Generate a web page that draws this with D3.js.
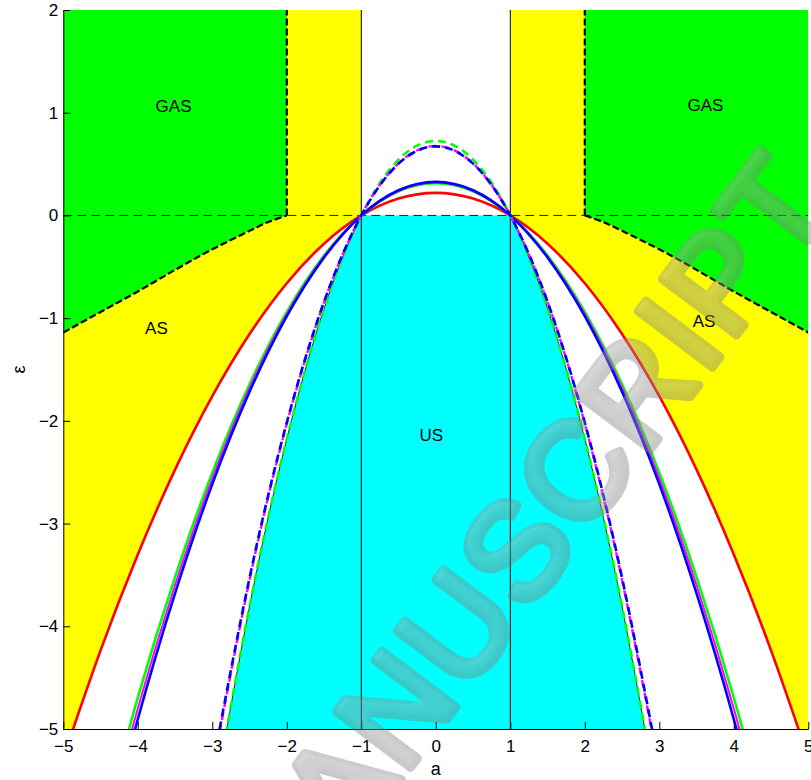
<!DOCTYPE html>
<html>
<head>
<meta charset="utf-8">
<script src="https://cdn.jsdelivr.net/npm/d3@7/dist/d3.min.js"></script>
<style>
  html, body { margin: 0; padding: 0; background: #fff; }
  svg { display: block; }
  text { font-family: "Liberation Sans", Arial, Helvetica, sans-serif; }
</style>
</head>
<body>
<svg id="chart" width="811" height="780"></svg>
<script>
// ---- data (half curves for a >= 0; the diagram is symmetric in a) ----
const aHalf        = [0, 0.5, 1, 1.5, 2, 2.5, 3, 3.5, 4, 4.5, 5];
const redHalf      = [0.22, 0.165, 0, -0.275, -0.66, -1.155, -1.76, -2.475, -3.30, -4.235, -5.28];
const greenHalf    = [0.313, 0.235, 0, -0.391, -0.939, -1.643, -2.504, -3.521, -4.695, -6.03];
const magentaHalf  = [0.320, 0.240, 0, -0.400, -0.960, -1.680, -2.560, -3.600, -4.800, -6.16];
const blueHalf     = [0.327, 0.245, 0, -0.409, -0.981, -1.717, -2.616, -3.679, -4.905, -6.29];
const greenDashHalf   = [0.725, 0.544, 0, -0.906, -2.175, -3.806, -5.80];
const magentaDashHalf = [0.676, 0.507, 0, -0.845, -2.028, -3.549, -5.41];
const blueDashHalf    = [0.672, 0.504, 0, -0.840, -2.016, -3.528, -5.376];

// GAS / AS border for |a| >= 2
const gasA   = [2, 2.25, 2.5, 3, 3.5, 4, 4.5, 5];
const gasEps = [0, -0.065, -0.15, -0.33, -0.53, -0.74, -0.94, -1.14];

// white strip |a| < 1 above eps = 0
const stripA = [-1, 1];

const xTicks = [-5, -4, -3, -2, -1, 0, 1, 2, 3, 4, 5];
const yTicks = [-5, -4, -3, -2, -1, 0, 1, 2];

const regionLabels = [
  { text: "GAS", a: -3.52, e: 1.07 },
  { text: "GAS", a: 3.62,  e: 1.08 },
  { text: "AS",  a: -3.75, e: -1.09 },
  { text: "AS",  a: 3.60,  e: -1.03 },
  { text: "US",  a: -0.06, e: -2.14 }
];

// mirror a half curve into a full one over negative and positive a
function full(half, aVals) {
  const pts = [];
  for (let i = half.length - 1; i >= 1; i--) pts.push([-aVals[i], half[i]]);
  for (let i = 0; i < half.length; i++) pts.push([aVals[i], half[i]]);
  return pts;
}

// ---- layout ----
const padL = 63.3, padR = 808.3, padT = 10, padB = 729;

const x = d3.scaleLinear().domain([-5, 5]).range([padL, padR]);
const y = d3.scaleLinear().domain([-5, 2]).range([padB, padT]);

const svg = d3.select("#chart");
const defs = svg.append("defs");
defs.append("clipPath").attr("id", "plotClip")
  .append("rect").attr("x", padL).attr("y", padT)
  .attr("width", padR - padL).attr("height", padB - padT);
defs.append("clipPath").attr("id", "negClip")
  .append("rect").attr("x", padL).attr("y", y(0))
  .attr("width", padR - padL).attr("height", padB - y(0));

const plot = svg.append("g").attr("clip-path", "url(#plotClip)");

// background
plot.append("rect").attr("x", padL).attr("y", padT)
  .attr("width", padR - padL).attr("height", padB - padT).attr("fill", "#ffffff");

// AS (yellow): above the red curve
plot.append("path")
  .datum(full(redHalf, aHalf))
  .attr("fill", "#ffff00")
  .attr("d", d3.area().curve(d3.curveNatural)
    .x(d => x(d[0])).y0(y(2)).y1(d => y(d[1])));

// white strip |a| < 1, eps > 0
plot.append("rect")
  .attr("x", x(stripA[0])).attr("y", y(2))
  .attr("width", x(stripA[1]) - x(stripA[0])).attr("height", y(0) - y(2))
  .attr("fill", "#ffffff");

// GAS (green) on both sides
const gasRight = gasA.map((a, i) => [a, gasEps[i]]);
const gasLeft = gasA.map((a, i) => [-a, gasEps[i]]).reverse();
const gasCurve = d3.curveNatural;
[gasLeft, gasRight].forEach(pts => {
  plot.append("path").datum(pts)
    .attr("fill", "#00ff00")
    .attr("d", d3.area().curve(gasCurve)
      .x(d => x(d[0])).y0(y(2)).y1(d => y(d[1])));
});

// US (cyan): below the dashed-green curve and below eps = 0
const gdPts = full(greenDashHalf, aHalf.slice(0, greenDashHalf.length));
const negG = plot.append("g").attr("clip-path", "url(#negClip)");
negG.append("path").datum(gdPts)
  .attr("fill", "#00ffff")
  .attr("d", d3.area().curve(d3.curveNatural)
    .x(d => x(d[0])).y0(y(-5) + 40).y1(d => y(d[1])));
negG.append("path").datum(gdPts)
  .attr("fill", "none").attr("stroke", "#000").attr("stroke-width", 0.8)
  .attr("d", d3.line().curve(d3.curveNatural).x(d => x(d[0])).y(d => y(d[1])));

// reference lines
plot.append("line")
  .attr("x1", x(-5)).attr("x2", x(5)).attr("y1", y(0)).attr("y2", y(0))
  .attr("stroke", "#222").attr("stroke-width", 1).attr("stroke-dasharray", "9,5");
stripA.forEach(a => {
  plot.append("line")
    .attr("x1", x(a)).attr("x2", x(a)).attr("y1", y(-5)).attr("y2", y(2))
    .attr("stroke", "#000").attr("stroke-width", 1);
});

// dashed border of the GAS regions: curved part and vertical part at |a| = 2
const edgeStyle = sel => sel.attr("fill", "none").attr("stroke", "#000")
  .attr("stroke-width", 2.2).attr("stroke-dasharray", "7,3");
[gasLeft, gasRight].forEach(pts => {
  plot.append("path").datum(pts).call(edgeStyle)
    .attr("d", d3.line().curve(gasCurve).x(d => x(d[0])).y(d => y(d[1])));
});
[-gasA[0], gasA[0]].forEach(a => {
  plot.append("line").call(edgeStyle)
    .attr("x1", x(a)).attr("x2", x(a)).attr("y1", y(0)).attr("y2", y(2));
});

// curves
const line = d3.line().curve(d3.curveNatural).x(d => x(d[0])).y(d => y(d[1]));
const curves = [
  { half: redHalf,         color: "#ff0000", dash: null,  w: 2.6 },
  { half: greenHalf,       color: "#00ff00", dash: null,  w: 2.6 },
  { half: magentaHalf,     color: "#ff00ff", dash: null,  w: 2.0 },
  { half: blueHalf,        color: "#0000ff", dash: null,  w: 2.6 },
  { half: greenDashHalf,   color: "#00ff00", dash: "8,5", w: 2.6 },
  { half: magentaDashHalf, color: "#ff00ff", dash: "8,5", w: 2.4 },
  { half: blueDashHalf,    color: "#0000ff", dash: "8,5", w: 2.6 }
];
curves.forEach(c => {
  plot.append("path")
    .datum(full(c.half, aHalf.slice(0, c.half.length)))
    .attr("fill", "none")
    .attr("stroke", c.color)
    .attr("stroke-width", c.w)
    .attr("stroke-dasharray", c.dash)
    .attr("d", line);
});

// region labels
plot.selectAll("text.region").data(regionLabels).join("text")
  .attr("class", "region")
  .attr("x", d => x(d.a)).attr("y", d => y(d.e))
  .attr("text-anchor", "middle").attr("dy", "0.36em")
  .attr("font-size", 17).attr("fill", "#000")
  .text(d => d.text);

// axes
const fmt = d3.format("d");
const xAxis = d3.axisBottom(x).tickValues(xTicks).tickFormat(fmt)
  .tickSizeInner(-7).tickSizeOuter(0).tickPadding(11);
const yAxis = d3.axisLeft(y).tickValues(yTicks).tickFormat(fmt)
  .tickSizeInner(-7).tickSizeOuter(0).tickPadding(5);

const gx = svg.append("g").attr("transform", `translate(0,${padB})`).call(xAxis);
const gy = svg.append("g").attr("transform", `translate(${padL},0)`).call(yAxis);
[gx, gy].forEach(g => {
  g.select(".domain").attr("stroke", "#000").attr("stroke-width", 1);
  g.selectAll(".tick line").attr("stroke", "#000").attr("stroke-width", 1);
  g.selectAll(".tick text").attr("font-size", 17).attr("fill", "#000")
    .attr("font-family", "'Liberation Sans', Arial, sans-serif");
});

// axis titles
svg.append("text").attr("x", x(0)).attr("y", 775)
  .attr("text-anchor", "middle").attr("font-size", 18).text("a");
svg.append("text")
  .attr("transform", `translate(25,${(padT + padB) / 2}) rotate(-90)`)
  .attr("text-anchor", "middle").attr("font-size", 18).text("ε");

// stamp across the figure, with a soft tube shading
const bevel = defs.append("filter").attr("id", "bevel")
  .attr("x", "-10%").attr("y", "-10%").attr("width", "120%").attr("height", "120%");
bevel.append("feGaussianBlur").attr("in", "SourceAlpha").attr("stdDeviation", 3.5).attr("result", "blur");
const spec = bevel.append("feSpecularLighting").attr("in", "blur")
  .attr("surfaceScale", 4).attr("specularConstant", 0.6).attr("specularExponent", 14)
  .attr("lighting-color", "#ffffff").attr("result", "spec");
spec.append("feDistantLight").attr("azimuth", 235).attr("elevation", 50);
bevel.append("feComposite").attr("in", "spec").attr("in2", "SourceAlpha")
  .attr("operator", "in").attr("result", "specIn");
bevel.append("feComposite").attr("in", "SourceGraphic").attr("in2", "specIn")
  .attr("operator", "arithmetic").attr("k1", 0).attr("k2", 1).attr("k3", 0.25).attr("k4", 0);

svg.append("g")
  .attr("opacity", 0.44)
  .attr("filter", "url(#bevel)")
  .append("text")
  .attr("transform", "translate(558,572) rotate(-53)")
  .attr("text-anchor", "middle")
  .attr("font-size", 135)
  .attr("letter-spacing", 4)
  .attr("fill", "#858585")
  .attr("stroke", "#858585")
  .attr("stroke-width", 9)
  .attr("stroke-linejoin", "round")
  .attr("stroke-linecap", "round")
  .text("MANUSCRIPT");
</script>
</body>
</html>
